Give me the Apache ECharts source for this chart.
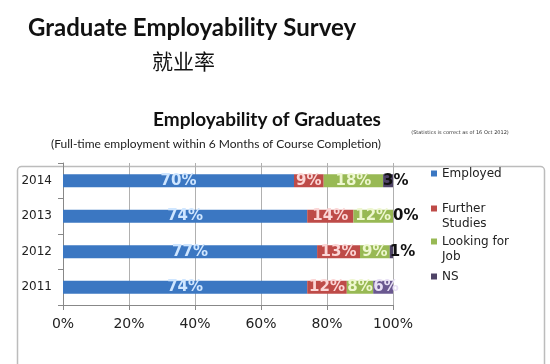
<!DOCTYPE html>
<html><head><meta charset="utf-8">
<script src="https://cdn.jsdelivr.net/npm/echarts@6/dist/echarts.min.js"></script>
<style>html,body{margin:0;padding:0;background:#fff}#c{width:550px;height:364px}</style>
</head><body><div id="c"></div>
<script>
const years = ['2011', '2012', '2013', '2014'];
const employed = [74, 77, 74, 70];
const furtherStudies = [12, 13, 14, 9];
const lookingForJob = [8, 9, 12, 18];
const ns = [6, 1, 0, 3];
const xTicks = [0, 20, 40, 60, 80, 100];
const seriesNames = ['Employed', 'Further Studies', 'Looking for Job', 'NS'];

const chart = echarts.init(document.getElementById('c'));
const F = 'DejaVu Sans';
function lbl(color, pos) {
  return { show: true, position: pos || 'inside', distance: 0, formatter: '{c}%', color: color,
           fontFamily: F, fontWeight: 'bold', fontSize: 15 };
}
const legendPos = [
  { name: seriesNames[0], top: 166, fmt: 'Employed' },
  { name: seriesNames[1], top: 186, fmt: '\u00a0\nFurther\nStudies' },
  { name: seriesNames[2], top: 219, fmt: '\u00a0\nLooking for\nJob' },
  { name: seriesNames[3], top: 269, fmt: 'NS' }
];
chart.setOption({
  animation: false,
  backgroundColor: '#fff',
  color: ['#3b77c2', '#be4b48', '#98b954', '#4e4366'],
  graphic: [
    { type: 'rect', shape: { x: 17.5, y: 166.5, width: 527, height: 250, r: 4 },
      style: { fill: 'none', stroke: '#bcbcbc', lineWidth: 1.5 }, z: -1 },
    { type: 'text', style: { x: 28, y: 28, text: 'Graduate Employability Survey', verticalAlign: 'middle',
      font: 'bold 24px Lato', fill: '#111' } },
    { type: 'text', style: { x: 152, y: 61, text: '就业率', verticalAlign: 'middle',
      font: '21px "Noto Sans CJK SC"', fill: '#111' } },
    { type: 'text', style: { x: 267, y: 120, text: 'Employability of Graduates', align: 'center', verticalAlign: 'middle',
      font: 'bold 19px Lato', fill: '#111' } },
    { type: 'text', style: { x: 216, y: 144, text: '(Full-time employment within 6 Months of Course Completion)', align: 'center', verticalAlign: 'middle',
      font: '12px Lato', fill: '#222' } },
    { type: 'text', style: { x: 460, y: 133, text: '(Statistics is correct as of 16 Oct 2012)', align: 'center', verticalAlign: 'middle',
      font: '5px "DejaVu Sans"', fill: '#333' } }
  ],
  legend: legendPos.map(l => ({
    data: [l.name], left: 431, top: l.top, padding: 0, icon: 'rect', itemWidth: 6, itemHeight: 6,
    formatter: () => l.fmt,
    textStyle: { fontFamily: F, fontSize: 12, color: '#222', lineHeight: 15 }
  })),
  grid: { left: 63, right: 157, top: 163, bottom: 59, containLabel: false },
  xAxis: {
    type: 'value', min: 0, max: 100, interval: 20,
    axisLine: { show: true, lineStyle: { color: '#888' } },
    axisTick: { show: true, length: 5, lineStyle: { color: '#888' } },
    splitLine: { show: true, lineStyle: { color: '#b0b0b0' } },
    axisLabel: { formatter: v => xTicks.includes(v) ? v + '%' : '', fontFamily: F, fontSize: 14, color: '#222', margin: 12 }
  },
  yAxis: {
    type: 'category', data: years,
    axisLine: { show: true, lineStyle: { color: '#888' } },
    axisTick: { show: true, length: 5, lineStyle: { color: '#888' } },
    axisLabel: { fontFamily: F, fontSize: 12, color: '#222', margin: 11 }
  },
  series: [
    { name: seriesNames[0], type: 'bar', stack: 's', barWidth: 13, data: employed, label: lbl('#cfe6ff') },
    { name: seriesNames[1], type: 'bar', stack: 's', barWidth: 13, data: furtherStudies, label: lbl('#fbd6d6') },
    { name: seriesNames[2], type: 'bar', stack: 's', barWidth: 13, data: lookingForJob, label: lbl('#eef7d0') },
    { name: seriesNames[3], type: 'bar', stack: 's', barWidth: 13,
      data: ns.map((v, i) => i === 0 ? { value: v, itemStyle: { color: '#6a5890' }, label: { color: '#e8e0f5' } } : v),
      label: lbl('#111', 'insideLeft') }
  ]
});
</script></body></html>
